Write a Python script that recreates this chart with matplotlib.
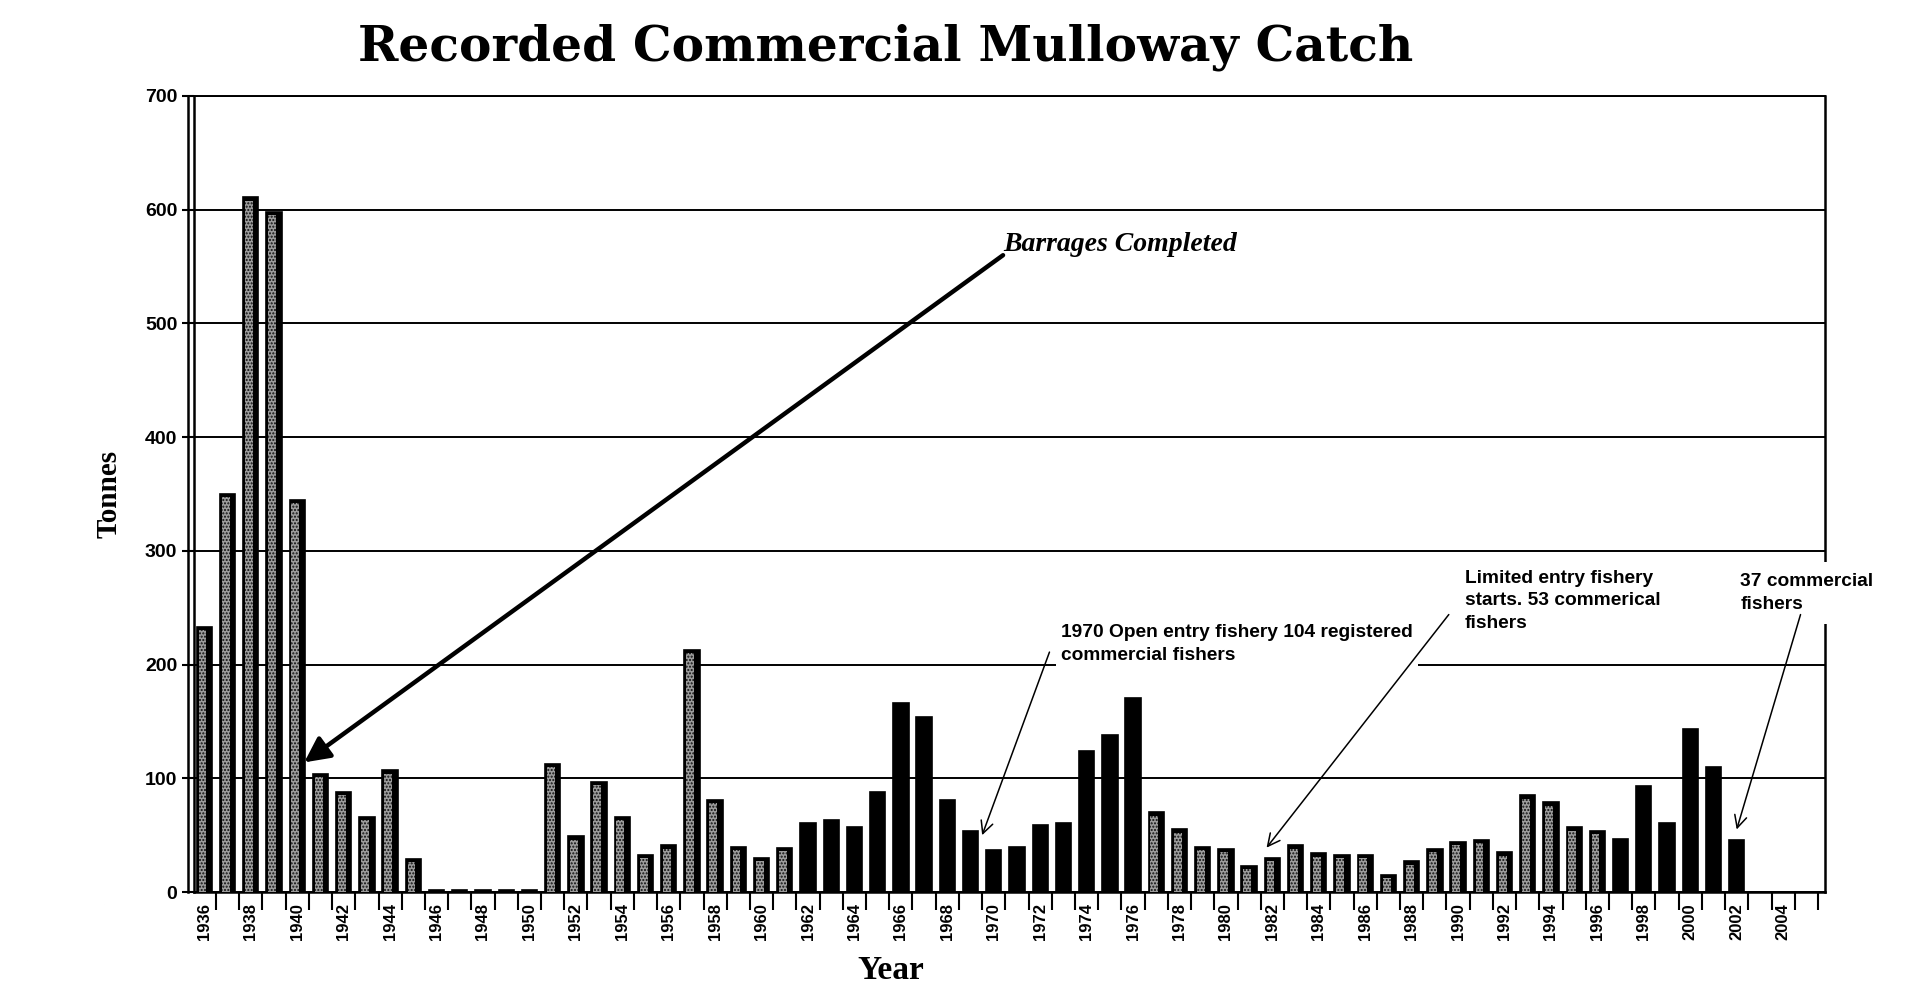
import numpy as np
import matplotlib
matplotlib.use('Agg')
import matplotlib.pyplot as plt
from matplotlib.ticker import FixedLocator

# Recorded commercial mulloway catch (tonnes)
years = list(range(1936, 2003))
tonnes = [233, 350, 611, 598, 345, 104, 88, 66, 107, 29,
          2, 2, 2, 2, 2, 113, 49, 97, 66, 33,
          41, 213, 81, 40, 30, 39, 61, 63, 57, 88,
          166, 154, 81, 54, 37, 40, 59, 61, 124, 138,
          171, 70, 55, 40, 38, 23, 30, 41, 34, 33,
          33, 15, 27, 38, 44, 46, 35, 85, 79, 57,
          54, 47, 93, 61, 143, 110, 46]

# years drawn with the stippled (grey) fill, the rest are solid black
stippled_ranges = [(1936, 1961), (1977, 1996)]

label_years = list(range(1936, 2005, 2))
y_ticks = [0, 100, 200, 300, 400, 500, 600, 700]

notes = {
    'barrages': 'Barrages Completed',
    'open': '1970 Open entry fishery 104 registered\ncommercial fishers',
    'limited': 'Limited entry fishery\nstarts. 53 commerical\nfishers',
    'fishers37': '37 commercial\nfishers',
}

fig = plt.figure(figsize=(19.24, 10.05), dpi=100)
ax = fig.add_axes([0.1008, 0.1124, 0.8477, 0.7921])

years_arr = np.array(years)
tonnes_arr = np.array(tonnes)
is_stip = np.zeros(len(years), dtype=bool)
for a, b in stippled_ranges:
    is_stip |= (years_arr >= a) & (years_arr <= b)

w = 0.66
# solid body (black) for every bar
ax.bar(years_arr, tonnes_arr, width=w, color='black', edgecolor='black',
       linewidth=1.2, zorder=3)
# stippled face on the older bars
plt.rcParams['hatch.linewidth'] = 1.0
ax.bar(years_arr[is_stip] - w / 2 + 0.08, np.maximum(tonnes_arr[is_stip] - 3, 0),
       width=0.34, align='edge', color='#9c9c9c', edgecolor='#101010',
       hatch='.....', linewidth=0, zorder=4)

ax.set_xlim(1935.55, 2005.8)
ax.set_ylim(0, 700)

ax.yaxis.set_major_locator(FixedLocator(y_ticks))
ax.yaxis.grid(True, color='black', linewidth=1.4)
ax.set_axisbelow(True)

ax.xaxis.set_major_locator(FixedLocator(label_years))
ax.xaxis.set_minor_locator(FixedLocator(np.arange(1935.5, 2006, 1.0)))
ax.set_xticklabels([str(y) for y in label_years], rotation=90,
                   fontsize=12, fontweight='bold', family='Liberation Sans')
ax.tick_params(axis='x', which='major', length=0, pad=8)
ax.tick_params(axis='x', which='minor', length=13, width=1.5, direction='out')
ax.tick_params(axis='y', which='major', length=9, width=1.5, direction='out',
               labelsize=14, pad=3)
for t in ax.get_yticklabels():
    t.set_fontweight('bold')
    t.set_family('Liberation Sans')

for s in ax.spines.values():
    s.set_linewidth(1.8)
    s.set_color('black')
ax.spines['top'].set_linewidth(1.4)
# double line on the left wall
ax.plot([-0.0035, -0.0035], [0, 1], transform=ax.transAxes, color='black',
        linewidth=1.8, clip_on=False, zorder=5)

ax.set_ylabel('Tonnes', fontsize=21, fontweight='bold', family='Liberation Serif',
              labelpad=16)
fig.text(0.463, 0.034, 'Year', ha='center', va='center', fontsize=24,
         fontweight='bold', family='Liberation Serif')

fig.text(0.4605, 0.953, 'Recorded Commercial Mulloway Catch', ha='center', va='center',
         fontsize=35, fontweight='bold', family='DejaVu Serif')

# Barrages arrow (thick)
ax.annotate('', xy=(1940.3, 114), xytext=(1970.4, 560),
            arrowprops=dict(arrowstyle='-|>', lw=3.2, color='black',
                            mutation_scale=38, shrinkA=0, shrinkB=0), zorder=6)
ax.text(1970.4, 569, notes['barrages'], ha='left', va='center', fontsize=20,
        fontweight='bold', fontstyle='italic', family='Liberation Serif', zorder=6)

box = dict(facecolor='white', edgecolor='none', pad=4)
thin = dict(arrowstyle='->', lw=1.1, color='black', mutation_scale=22,
            shrinkA=0, shrinkB=0)

ax.text(1972.9, 218, notes['open'], ha='left', va='center', fontsize=13.8,
        fontweight='bold', family='Liberation Sans', linespacing=1.42,
        bbox=box, zorder=7)
ax.annotate('', xy=(1969.5, 50), xytext=(1972.4, 211), arrowprops=thin, zorder=8)

ax.text(1990.3, 256, notes['limited'], ha='left', va='center', fontsize=13.8,
        fontweight='bold', family='Liberation Sans', linespacing=1.42,
        bbox=box, zorder=7)
ax.annotate('', xy=(1981.75, 39), xytext=(1989.6, 244), arrowprops=thin, zorder=8)

ax.text(2002.15, 263, notes['fishers37'], ha='left', va='center', fontsize=13.8,
        fontweight='bold', family='Liberation Sans', linespacing=1.42,
        bbox=dict(facecolor='white', edgecolor='none', pad=8), zorder=7,
        clip_on=False)
ax.annotate('', xy=(2002.0, 55), xytext=(2004.75, 244), arrowprops=thin,
            zorder=8, annotation_clip=False)

fig.savefig('out.png', dpi=100, facecolor='white')
